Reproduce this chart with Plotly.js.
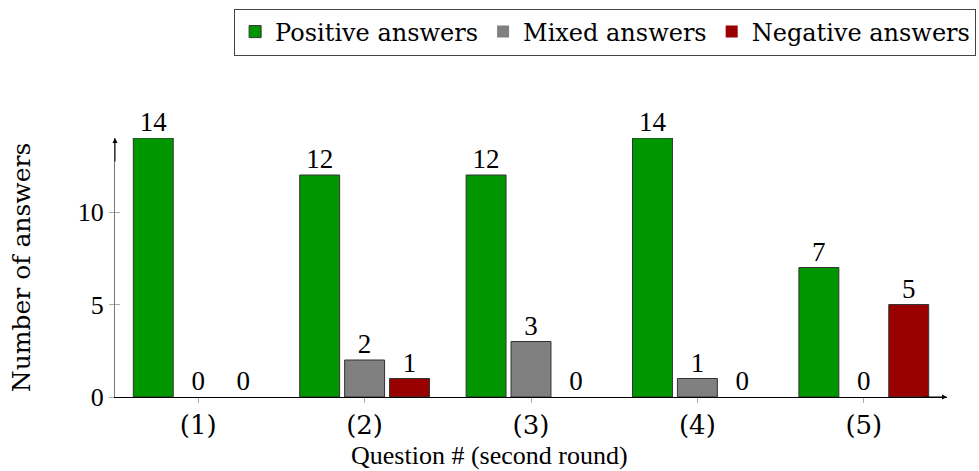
<!DOCTYPE html>
<html>
<head>
<meta charset="utf-8">
<script src="https://cdn.plot.ly/plotly-3.0.1.min.js"></script>
<style>html,body{margin:0;padding:0;background:#fff;}#chart{width:979px;height:471px;}</style>
</head>
<body>
<div id="chart"></div>
<script>
const categories = ["(1)", "(2)", "(3)", "(4)", "(5)"];
const positive = [14, 12, 12, 14, 7];
const mixed = [0, 2, 3, 1, 0];
const negative = [0, 1, 0, 0, 5];
const seriesNames = ["Positive answers", "Mixed answers", "Negative answers"];
const seriesColors = ["#009600", "#808080", "#990000"];
const yTicks = [0, 5, 10];

const xIdx = categories.map((_, i) => i);
const series = [positive, mixed, negative];
const slot = 0.27;

const traces = [];
series.forEach((vals, k) => {
  traces.push({
    type: "bar", x: xIdx, y: vals, name: seriesNames[k],
    marker: {color: seriesColors[k], line: {color: "#333", width: vals.map(v => v ? 1 : 0)}},
    hoverinfo: "skip"
  });
});
series.forEach((vals, k) => {
  traces.push({
    type: "scatter", mode: "text", showlegend: false, cliponaxis: false,
    x: xIdx.map(i => i + (k - 1) * slot), y: vals,
    text: vals.map(String), textposition: "top center",
    textfont: {family: "Liberation Serif", size: 27, color: "#000"},
    hoverinfo: "skip"
  });
});

const layout = {
  width: 979, height: 471,
  margin: {l: 115, r: 32, t: 138, b: 74, autoexpand: false},
  paper_bgcolor: "#fff", plot_bgcolor: "#fff",
  barmode: "group", bargap: 0.19, bargroupgap: 0.111,
  font: {family: "DejaVu Serif", color: "#000"},
  xaxis: {
    range: [-0.5, 4.5], tickvals: xIdx, ticktext: categories, automargin: false,
    showgrid: false, zeroline: false, showline: true, linecolor: "#000", linewidth: 1,
    ticks: "outside", ticklen: 5, tickcolor: "#aaa",
    tickfont: {family: "DejaVu Serif", size: 26}, fixedrange: true
  },
  yaxis: {
    range: [0, 14], tickvals: yTicks, ticktext: yTicks.map(String), automargin: false,
    showgrid: false, zeroline: false, showline: true, linecolor: "#777", linewidth: 1,
    ticks: "outside", ticklen: 5, tickcolor: "#aaa",
    tickfont: {family: "Liberation Serif", size: 26},
    title: {text: "Number of answers", font: {family: "DejaVu Serif", size: 25}, standoff: 40},
    fixedrange: true
  },
  yaxis2: {
    overlaying: "y", range: [0, 14], tickvals: yTicks, showticklabels: false, automargin: false,
    ticks: "inside", ticklen: 5, tickcolor: "#aaa", showgrid: false, zeroline: false,
    showline: false, side: "left", fixedrange: true
  },
  legend: {
    orientation: "h", x: 1.035, xanchor: "right", y: 1.5, yanchor: "top",
    bordercolor: "#444", borderwidth: 1, bgcolor: "#fff",
    font: {family: "DejaVu Serif", size: 24}, itemwidth: 30, traceorder: "normal"
  },
  annotations: [
    {text: "Question # (second round)", xref: "paper", yref: "paper", x: 0.45, y: 0,
     yshift: -58, xanchor: "center", yanchor: "middle", showarrow: false,
     font: {family: "Liberation Serif", size: 26}},
    {text: "", xref: "paper", yref: "paper", x: 0, y: 1, ax: 0, ay: 25, axref: "pixel", ayref: "pixel",
     showarrow: true, arrowhead: 2, arrowsize: 1, arrowwidth: 1, arrowcolor: "#000"},
    {text: "", xref: "paper", yref: "paper", x: 1, y: 0, ax: -25, ay: 0, axref: "pixel", ayref: "pixel",
     showarrow: true, arrowhead: 2, arrowsize: 1, arrowwidth: 1, arrowcolor: "#000"}
  ],
  showlegend: true
};
traces.push({type: "scatter", x: [0], y: [0], yaxis: "y2", mode: "none", showlegend: false, hoverinfo: "skip"});

Plotly.newPlot("chart", traces, layout, {staticPlot: true, displayModeBar: false});
</script>
</body>
</html>
